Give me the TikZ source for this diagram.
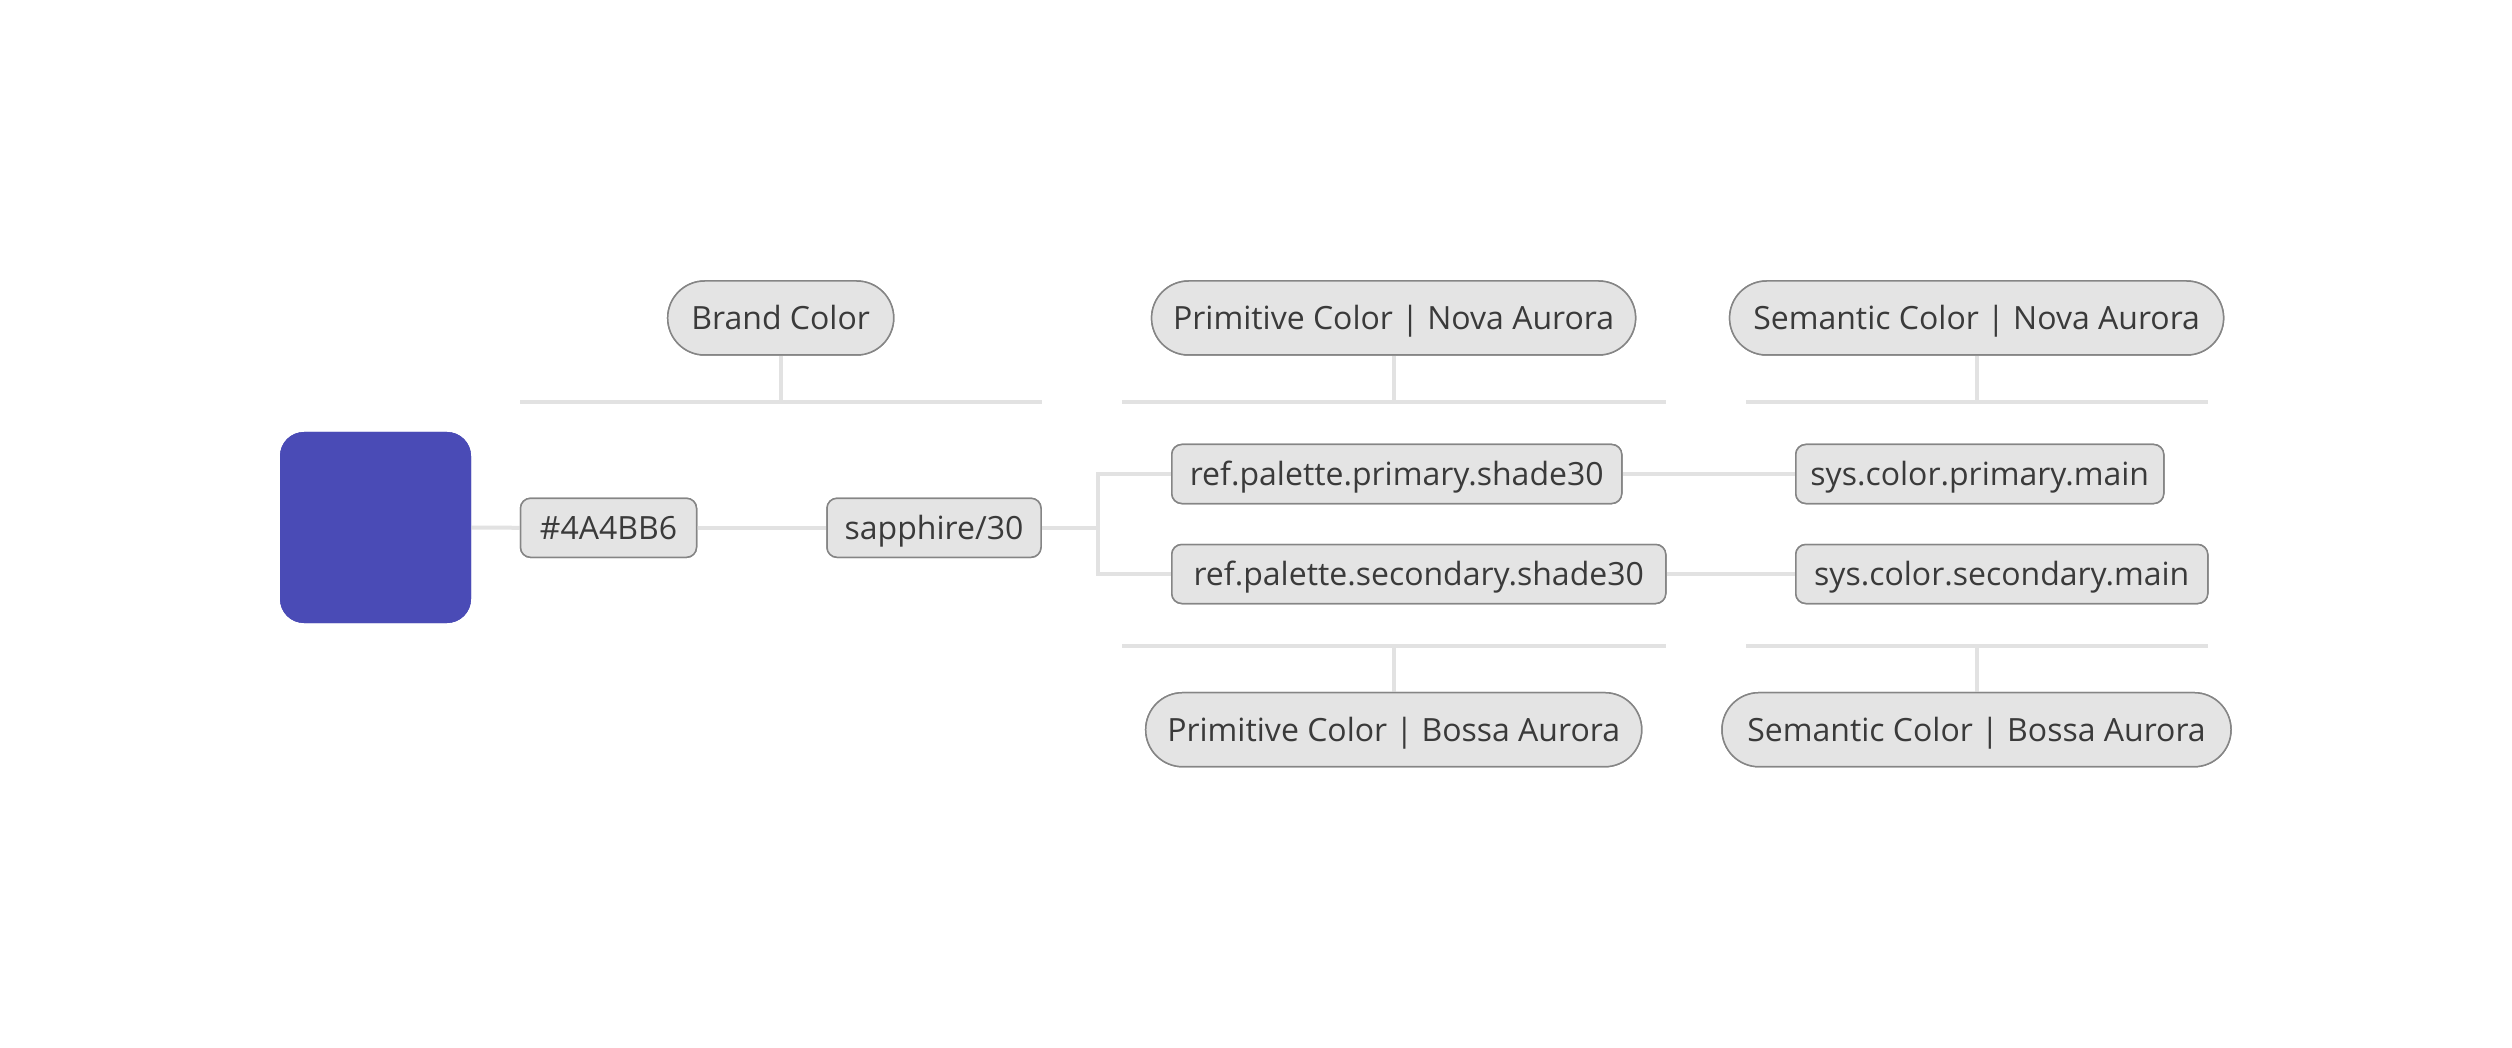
\documentclass[tikz,border=0pt]{standalone}
\usepackage{fontspec}
\setmainfont{Open Sans}
\definecolor{brandblue}{HTML}{4A4BB6}
\definecolor{bd}{HTML}{858585}
\definecolor{fl}{HTML}{E4E4E4}
\definecolor{tx}{HTML}{3A3A3A}
\definecolor{ln}{HTML}{E2E2E2}
\begin{document}
\begin{tikzpicture}[x=1pt,y=-1pt,
  every node/.style={font=\fontsize{32}{38}\selectfont, text=tx, text height=23pt, text depth=0pt},
  pill/.style={draw=bd, fill=fl, line width=1.5pt, rounded corners=37pt, minimum height=74pt, inner sep=0pt},
  tag/.style={draw=bd, fill=fl, line width=1.5pt, rounded corners=10pt, minimum height=59pt, inner sep=0pt},
  swatch/.style={fill=brandblue, rounded corners=24pt, minimum width=191pt, minimum height=191pt, inner sep=0pt, text height=, text depth=},
  conn/.style={draw=ln, line width=4pt}]
\useasboundingbox[fill=white] (0,0) rectangle (2512,1048);

% swatch
\node[swatch] (sw) at (375.5,527.5) {};

% group headers
\node[pill, minimum width=226pt] (brand) at (780.7,318) {Brand Color};
\node[pill, minimum width=484pt] (primnova) at (1393.6,318) {Primitive Color | Nova Aurora};
\node[pill, minimum width=494pt] (semnova) at (1976.6,318) {Semantic Color | Nova Aurora};
\node[pill, minimum width=496pt] (primbossa) at (1393.7,729.7) {Primitive Color | Bossa Aurora};
\node[pill, minimum width=509pt] (sembossa) at (1976.5,729.7) {Semantic Color | Bossa Aurora};

% tokens
\node[tag, minimum width=176pt] (hex) at (608.5,527.8) {\#4A4BB6};
\node[tag, minimum width=214pt] (sapph) at (934,527.8) {sapphire/30};
\node[tag, minimum width=450pt, anchor=west] (refp) at (1171,474) {ref.palette.primary.shade30};
\node[tag, minimum width=494pt, anchor=west] (refs) at (1171,574) {ref.palette.secondary.shade30};
\node[tag, minimum width=368pt, anchor=west] (sysp) at (1795,474) {sys.color.primary.main};
\node[tag, minimum width=412pt, anchor=west] (syss) at (1795,574) {sys.color.secondary.main};

% group rules
\coordinate (b1) at (520,401.7);  \coordinate (b2) at (1042,401.7);
\coordinate (p1) at (1122,401.7); \coordinate (p2) at (1666,401.7);
\coordinate (s1) at (1746,401.7); \coordinate (s2) at (2208,401.7);
\coordinate (pb1) at (1122,645.7); \coordinate (pb2) at (1666,645.7);
\coordinate (sb1) at (1746,645.7); \coordinate (sb2) at (2208,645.7);
\draw[conn] (b1) -- (b2);
\draw[conn] (p1) -- (p2);
\draw[conn] (s1) -- (s2);
\draw[conn] (pb1) -- (pb2);
\draw[conn] (sb1) -- (sb2);
\draw[conn] (brand.south) -- (brand.south |- b1);
\draw[conn] (primnova.south) -- (primnova.south |- p1);
\draw[conn] (semnova.south) -- (semnova.south |- s1);
\draw[conn] (primbossa.north) -- (primbossa.north |- pb1);
\draw[conn] (sembossa.north) -- (sembossa.north |- sb1);

% chain
\coordinate (fork) at (1098,527.8);
\draw[conn] (sw.east) -- (hex.west);
\draw[conn] (hex.east) -- (sapph.west);
\draw[conn] (sapph.east) -- (fork);
\draw[conn] (refp.west) -- (fork |- refp.west) -- (fork |- refs.west) -- (refs.west);
\draw[conn] (refp.east) -- (sysp.west);
\draw[conn] (refs.east) -- (syss.west);

% redraw nodes on top of lines
\node[swatch] at (sw) {};
\node[tag, minimum width=176pt] at (hex) {\#4A4BB6};
\node[tag, minimum width=214pt] at (sapph) {sapphire/30};
\node[tag, minimum width=450pt] at (refp) {ref.palette.primary.shade30};
\node[tag, minimum width=494pt] at (refs) {ref.palette.secondary.shade30};
\node[tag, minimum width=368pt] at (sysp) {sys.color.primary.main};
\node[tag, minimum width=412pt] at (syss) {sys.color.secondary.main};
\node[pill, minimum width=226pt] at (brand) {Brand Color};
\node[pill, minimum width=484pt] at (primnova) {Primitive Color | Nova Aurora};
\node[pill, minimum width=494pt] at (semnova) {Semantic Color | Nova Aurora};
\node[pill, minimum width=496pt] at (primbossa) {Primitive Color | Bossa Aurora};
\node[pill, minimum width=509pt] at (sembossa) {Semantic Color | Bossa Aurora};
\end{tikzpicture}
\end{document}
